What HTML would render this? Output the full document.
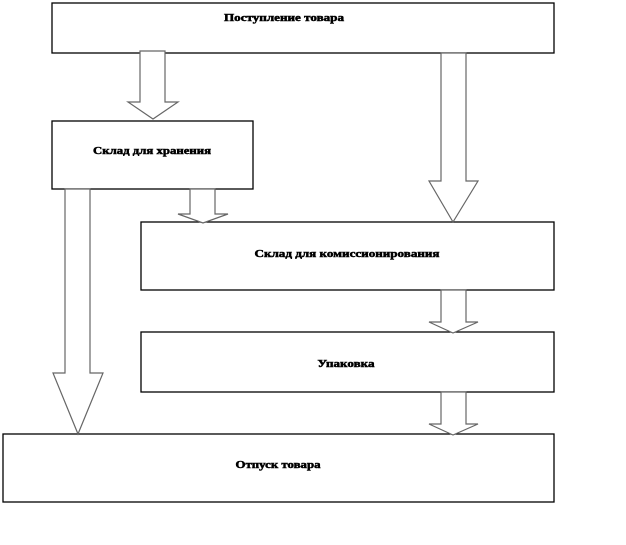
<!DOCTYPE html>
<html><head><meta charset="utf-8"><style>html,body{margin:0;padding:0;background:#fff}svg{display:block}</style></head>
<body>
<svg width="626" height="545" viewBox="0 0 626 545" xmlns="http://www.w3.org/2000/svg">
<g fill="#fff" stroke="#000" stroke-width="1.3">
<rect x="52" y="3" width="502" height="50"/>
<rect x="52" y="121" width="201" height="68"/>
<rect x="141" y="222" width="413" height="68"/>
<rect x="141" y="332" width="413" height="60"/>
<rect x="3" y="434" width="551" height="68"/>
</g>
<g fill="#fff" stroke="#666" stroke-width="1.2">
<polygon points="140,51 165,51 165,102 178,102 153,119 128,102 140,102"/>
<polygon points="441,53 466,53 466,181 478,181 453,222 429,181 441,181"/>
<polygon points="190,189 215,189 215,214 228,214 203,223 178,214 190,214"/>
<polygon points="65,189 90,189 90,373 103,373 78,434 53,373 65,373"/>
<polygon points="441,290 466,290 466,322 478,322 453,333 429,322 441,322"/>
<polygon points="441,392 466,392 466,424 478,424 453,435 429,424 441,424"/>
</g>
<g font-family="Liberation Serif, serif" font-weight="bold" font-size="10" fill="#000" stroke="#000" stroke-width="0.5" text-anchor="middle">
<text x="284" y="21" textLength="120" lengthAdjust="spacingAndGlyphs">Поступление  товара</text>
<text x="152" y="154" textLength="118" lengthAdjust="spacingAndGlyphs">Склад  для хранения</text>
<text x="347" y="257" textLength="185" lengthAdjust="spacingAndGlyphs">Склад  для комиссионирования</text>
<text x="346" y="367" textLength="57" lengthAdjust="spacingAndGlyphs">Упаковка</text>
<text x="278" y="468" textLength="85" lengthAdjust="spacingAndGlyphs">Отпуск  товара</text>
</g>
</svg>
</body></html>
